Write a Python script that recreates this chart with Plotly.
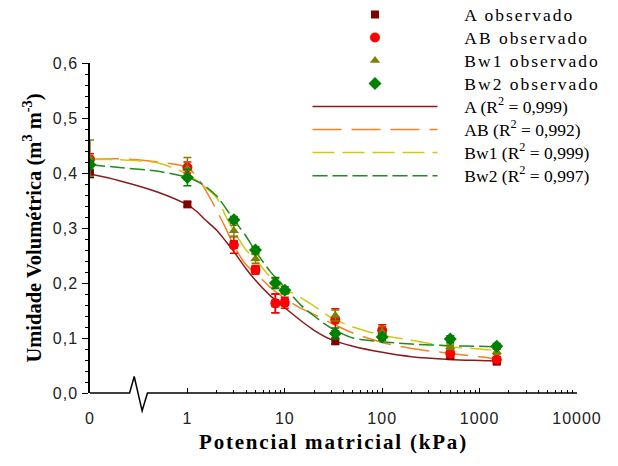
import plotly.graph_objects as go

# ---------------- data ----------------
# observed suction values (kPa); 0 is plotted at the broken-axis origin
x_obs = [0, 1, 3, 5, 8, 10, 33, 100, 500, 1500]
A_obs = [0.398, 0.343, 0.270, 0.224, 0.163, 0.165, 0.094, 0.108, 0.067, 0.057]
AB_obs = [0.425, 0.410, 0.269, 0.224, 0.163, 0.164, 0.133, 0.114, 0.072, 0.061]
Bw1_obs = [0.427, 0.408, 0.295, 0.244, 0.200, 0.185, 0.141, 0.111, 0.084, 0.075]
Bw2_obs = [0.415, 0.392, 0.315, 0.260, 0.200, 0.187, 0.108, 0.102, 0.098, 0.085]

A_err = [0.006, 0.004, 0.006, 0.005, 0.017, 0.005, 0.005, 0.004, 0.004, 0.004]
AB_err = [0.010, 0.010, 0.015, 0.008, 0.017, 0.010, 0.020, 0.010, 0.006, 0.005]
Bw1_err = [0.033, 0.020, 0.010, 0.008, 0.008, 0.005, 0.010, 0.010, 0.005, 0.005]
Bw2_err = [0.008, 0.015, 0.006, 0.006, 0.010, 0.006, 0.010, 0.006, 0.006, 0.005]

# fitted curves
x_fit = [0, 0.2, 0.5, 1, 1.25, 1.5, 2, 2.5, 3, 4, 5, 7, 10, 15, 20, 30, 50, 100, 200, 500, 1000, 1500]
A_fit = [0.398, 0.386, 0.365, 0.342, 0.330, 0.316, 0.296, 0.275, 0.257, 0.226, 0.205, 0.178, 0.155,
         0.130, 0.114, 0.097, 0.085, 0.074, 0.066, 0.061, 0.059, 0.058]
AB_fit = [0.425, 0.426, 0.420, 0.410, 0.393, 0.372, 0.332, 0.298, 0.268, 0.233, 0.218, 0.193, 0.172,
          0.153, 0.143, 0.127, 0.109, 0.092, 0.081, 0.072, 0.066, 0.062]
Bw1_fit = [0.425, 0.424, 0.418, 0.398, 0.386, 0.375, 0.355, 0.320, 0.295, 0.260, 0.243, 0.212, 0.190,
           0.172, 0.158, 0.137, 0.120, 0.105, 0.096, 0.084, 0.080, 0.077]
Bw2_fit = [0.415, 0.410, 0.403, 0.392, 0.385, 0.377, 0.358, 0.335, 0.315, 0.285, 0.258, 0.222, 0.192,
           0.158, 0.140, 0.118, 0.100, 0.093, 0.089, 0.086, 0.085, 0.084]

x_tick_vals = [0, 1, 10, 100, 1000, 10000]
x_tick_text = ["0", "1", "10", "100", "1000", "10000"]
y_tick_vals = [0.0, 0.1, 0.2, 0.3, 0.4, 0.5, 0.6]
y_tick_text = ["0,0", "0,1", "0,2", "0,3", "0,4", "0,5", "0,6"]

ZERO_POS = 0.1  # where "0" sits on the log axis (one decade left of 1)


def pos(v):
    return ZERO_POS if v == 0 else v


def spaced(t, ls):
    return '<span style="letter-spacing:%spx">%s</span>' % (ls, t)


serif = "Liberation Serif, Times New Roman, serif"
sans = "Liberation Sans, Arial, sans-serif"
NB = "\u00a0" * 5


def leg(t, ls):
    return '<span style="font-size:17.5px">%s%s</span>' % (NB, spaced(t, ls))


fig = go.Figure()

curves = [
    ("A (R<sup>2</sup> = 0,999)", A_fit, "#8B1A1A", "solid"),
    ("AB (R<sup>2</sup> = 0,992)", AB_fit, "#F58220", "29px,10px"),
    ("Bw1 (R<sup>2</sup> = 0,999)", Bw1_fit, "#D2C814", "22px,8px"),
    ("Bw2 (R<sup>2</sup> = 0,997)", Bw2_fit, "#1E8C1E", "15px,5px"),
]
for i, (name, ys, col, dash) in enumerate(curves):
    fig.add_trace(go.Scatter(
        x=[pos(v) for v in x_fit], y=ys, mode="lines", name=leg(name, 0),
        line=dict(color=col, width=1.5, dash=dash, shape="spline", smoothing=0.8),
        legendrank=5 + i,
    ))

obs = [
    ("A observado", A_obs, A_err, "#800000", "square", 8),
    ("AB observado", AB_obs, AB_err, "#FF0000", "circle", 10),
    ("Bw1 observado", Bw1_obs, Bw1_err, "#808000", "triangle-up", 9),
    ("Bw2 observado", Bw2_obs, Bw2_err, "#008000", "diamond", 10),
]
for i, (name, ys, err, col, sym, sz) in enumerate(obs):
    fig.add_trace(go.Scatter(
        x=[pos(v) for v in x_obs], y=ys, mode="markers", name=leg(name, 2),
        marker=dict(color=col, symbol=sym, size=sz),
        error_y=dict(type="data", array=err, visible=True, color=col, thickness=1.5, width=4),
        legendrank=1 + i,
    ))

minor_vals = [m * 10 ** d for d in range(0, 4) for m in range(2, 10)]

# broken x axis line (drawn as a path in paper coordinates)
fig.add_shape(type="path", xref="paper", yref="paper",
              path="M 0,0 L 0.0813,0 L 0.0908,0.05 L 0.107,-0.054 L 0.118,0 L 1,0",
              line=dict(color="black", width=1.5))

fig.update_layout(
    width=618, height=466,
    margin=dict(l=90, r=41, t=63, b=73, autoexpand=False),
    paper_bgcolor="white", plot_bgcolor="white",
    showlegend=True,
    legend=dict(x=0.4466, y=1.197, xanchor="left", yanchor="top",
                font=dict(family=serif, size=15.4, color="black"),
                itemwidth=125, tracegroupgap=0, bgcolor="rgba(0,0,0,0)"),
    xaxis=dict(type="log", range=[-1, 4],
               tickvals=[pos(v) for v in x_tick_vals],
               ticktext=[spaced(t, 1) for t in x_tick_text],
               ticks="inside", ticklen=5, tickwidth=1, tickcolor="black",
               minor=dict(tickvals=minor_vals, ticks="inside", ticklen=3, tickcolor="black"),
               showline=False, showgrid=False, zeroline=False,
               ticklabelstandoff=14,
               tickfont=dict(family=sans, size=16, color="#222"),
               title=dict(text="<b>" + spaced("Potencial matricial (kPa)", 1.8) + "</b>",
                          font=dict(family=serif, size=21, color="black"), standoff=8)),
    yaxis=dict(range=[0, 0.6], tickvals=y_tick_vals, ticktext=[spaced(t, 1) for t in y_tick_text],
               ticks="outside", ticklen=6, tickwidth=1, tickcolor="black",
               minor=dict(dtick=0.02, ticks="outside", ticklen=3, tickcolor="black"),
               showline=True, linecolor="black", linewidth=1.5,
               showgrid=False, zeroline=False, ticklabelstandoff=1,
               tickfont=dict(family=sans, size=16, color="#222"),
               title=dict(text="<b>Umidade Volumétrica (m<sup>3</sup> m<sup>-3</sup>)</b>",
                          font=dict(family=serif, size=20.5, color="black"), standoff=6)),
)

# remove the browser's default 8px page margin so the figure fills the window
fig.write_html("out.html", config={"displayModeBar": False},
               post_script="document.body.style.margin='0';")
